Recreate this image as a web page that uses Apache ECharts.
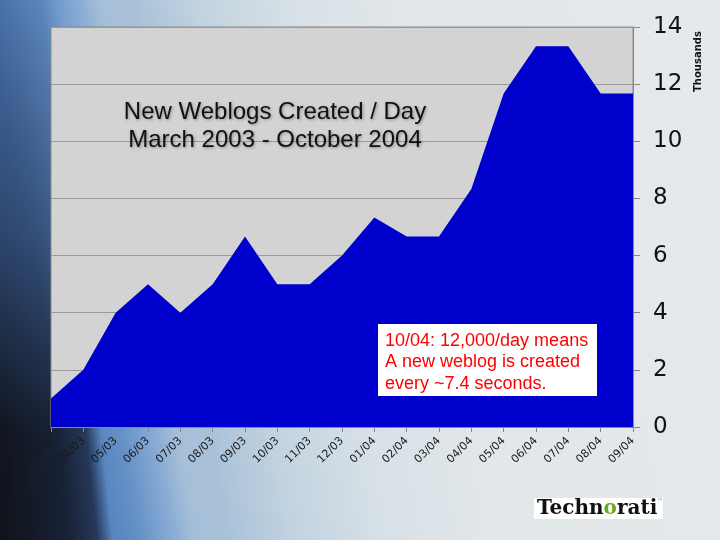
<!DOCTYPE html>
<html>
<head>
<meta charset="utf-8">
<script src="https://cdn.jsdelivr.net/npm/echarts@6/dist/echarts.min.js"></script>
<style>
html,body{margin:0;padding:0;}
#wrap{position:relative;width:720px;height:540px;overflow:hidden;
background-image: linear-gradient(80deg, #3a62a0 0%, #4a76b4 10%, #6490c6 17%, #86aad4 21%, #a6bfd8 24%, #a9c1d8 28%, #c2d3e0 36%, #d8e1e7 48%, #e2e7ea 62%, #e6e9eb 100%);}
#dark{position:absolute;left:0;top:0;width:720px;height:540px;
background-image: linear-gradient(84deg, rgba(16,18,26,1) 0%, rgba(22,30,48,0.95) 9%, rgba(30,44,72,0.85) 12.5%, rgba(30,44,72,0) 14.5%);
-webkit-mask-image: linear-gradient(to bottom, rgba(0,0,0,0.1) 0%, rgba(0,0,0,0.5) 45%, rgba(0,0,0,1) 80%);
mask-image: linear-gradient(to bottom, rgba(0,0,0,0.1) 0%, rgba(0,0,0,0.5) 45%, rgba(0,0,0,1) 80%);}
#chart{position:absolute;left:0;top:0;width:720px;height:540px;}
</style>
</head>
<body>
<div id="wrap"><div id="dark"></div><div id="chart"></div></div>
<script>
var categories = ['03/03','04/03','05/03','06/03','07/03','08/03','09/03','10/03','11/03','12/03','01/04','02/04','03/04','04/04','05/04','06/04','07/04','08/04','09/04'];
var weblogsPerDay = [1.0, 2.0, 4.0, 5.0, 4.0, 5.0, 6.67, 5.0, 5.0, 6.0, 7.33, 6.67, 6.67, 8.33, 11.67, 13.33, 13.33, 11.67, 11.67];
var titleLines = ['New Weblogs Created / Day', 'March 2003 - October 2004'];
var noteLines = ['10/04: 12,000/day means', 'A new weblog is created', 'every ~7.4 seconds.'];

var chart = echarts.init(document.getElementById('chart'), null, {renderer: 'canvas'});
chart.setOption({
  backgroundColor: 'transparent',
  animation: false,
  grid: {left: 51, right: 87, top: 27, bottom: 113, show: true, backgroundColor: '#d3d3d3', borderColor: '#8a8a8a', borderWidth: 1},
  title: {
    text: titleLines.join('\n'),
    left: 270, top: 93, textAlign: 'center',
    textStyle: {fontFamily: 'Liberation Sans, Arial, sans-serif', fontSize: 24, fontWeight: 'normal', color: '#111', lineHeight: 28,
      textShadowColor: 'rgba(0,0,0,0.35)', textShadowBlur: 3, textShadowOffsetX: 1, textShadowOffsetY: 1}
  },
  xAxis: {
    type: 'category', data: categories, boundaryGap: false,
    axisLine: {show: true, lineStyle: {color: '#888'}},
    axisTick: {show: true, length: 5, alignWithLabel: true, lineStyle: {color: '#888'}},
    axisLabel: {rotate: 45, interval: 0, showMinLabel: true, showMaxLabel: true, hideOverlap: false, fontFamily: 'DejaVu Sans, sans-serif', fontSize: 11, color: '#1a1a1a', margin: 12},
    splitLine: {show: false}
  },
  yAxis: {
    type: 'value', position: 'right', min: 0, max: 14, interval: 2,
    axisLine: {show: true, lineStyle: {color: '#888'}},
    axisTick: {show: true, length: 7, lineStyle: {color: '#888'}},
    axisLabel: {fontFamily: 'DejaVu Sans, sans-serif', fontSize: 23, color: '#111', margin: 20},
    splitLine: {show: true, lineStyle: {color: '#9a9a9a', width: 1}}
  },
  series: [{
    type: 'line', data: weblogsPerDay, smooth: false, symbol: 'none',
    lineStyle: {width: 0, color: '#0000cc'},
    areaStyle: {color: '#0000cc', opacity: 1},
    z: 2
  }],
  graphic: [
    {type: 'text', x: 693, y: 92, rotation: Math.PI / 2, z: 100, style: {text: 'Thousands', fontFamily: 'DejaVu Sans, sans-serif', fontSize: 10, fontWeight: 'bold', fill: '#111', verticalAlign: 'top'}},
    {type: 'rect', z: 100, shape: {x: 378, y: 324, width: 219, height: 72}, style: {fill: '#ffffff'}},
    {type: 'text', z: 101, x: 385, y: 330, style: {text: noteLines.join('\n'), fontFamily: 'Liberation Sans, Arial, sans-serif', fontSize: 18, lineHeight: 21.5, fill: '#ff0000'}},
    {type: 'rect', z: 100, shape: {x: 534, y: 498, width: 129, height: 21}, style: {fill: '#ffffff'}},
    {type: 'text', z: 101, x: 537, y: 498, style: {
      text: '{a|Techn}{g|o}{a|rati}{tm|™}',
      rich: {
        a: {fontFamily: 'DejaVu Serif, serif', fontWeight: 'bold', fontSize: 20, fill: '#111', lineHeight: 22},
        g: {fontFamily: 'DejaVu Serif, serif', fontWeight: 'bold', fontSize: 20, fill: '#6aaa1e', lineHeight: 22},
        tm: {fontFamily: 'DejaVu Sans, sans-serif', fontSize: 6, fill: '#666', verticalAlign: 'top', lineHeight: 22}
      }
    }}
  ]
});
</script>
</body>
</html>
